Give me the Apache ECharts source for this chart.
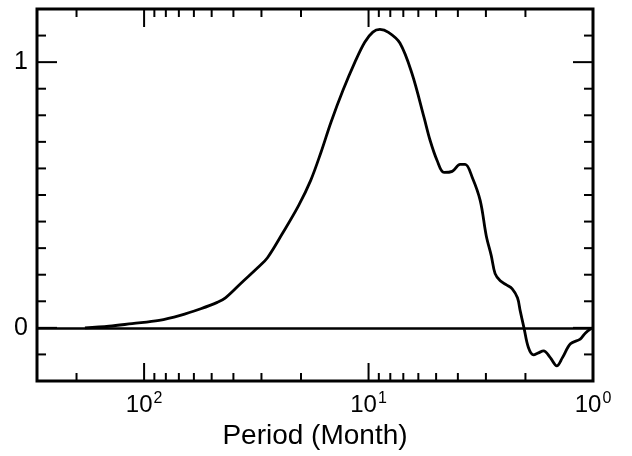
<!DOCTYPE html>
<html><head><meta charset="utf-8">
<script src="https://cdn.jsdelivr.net/npm/echarts@6/dist/echarts.min.js"></script>
<style>html,body{margin:0;padding:0;background:#fff}#c{width:632px;height:456px}</style>
</head><body><div id="c"></div>
<script>
// Period (months) and spectral value of the curve
const periods = [183.5, 143.4, 113.1, 85.7, 69.0, 55.9, 47.2, 43.4, 36.8, 31.2, 28.2, 24.2, 20.5, 18.1, 16.3, 14.7, 13.0, 11.5, 10.4, 9.57, 8.90, 8.15, 7.25, 6.41, 5.66, 5.32, 4.95, 4.61, 4.24, 3.91, 3.71, 3.45, 3.18, 2.99, 2.84, 2.73, 2.59, 2.43, 2.29, 2.17, 2.11, 2.03, 1.94, 1.84, 1.75, 1.66, 1.55, 1.45, 1.37, 1.26, 1.14, 1.08, 1.01];
const values = [0.0, 0.006, 0.016, 0.028, 0.047, 0.072, 0.096, 0.113, 0.170, 0.226, 0.264, 0.355, 0.460, 0.555, 0.660, 0.774, 0.894, 1.000, 1.075, 1.113, 1.123, 1.112, 1.072, 0.958, 0.792, 0.706, 0.630, 0.585, 0.589, 0.615, 0.615, 0.566, 0.479, 0.347, 0.272, 0.204, 0.177, 0.162, 0.147, 0.113, 0.064, 0.0, -0.074, -0.102, -0.094, -0.087, -0.112, -0.143, -0.113, -0.060, -0.042, -0.019, 0.0];

const xMajorTicks = [100, 10];
const xMinorTicks = [200, 90, 80, 70, 60, 50, 40, 30, 20, 9, 8, 7, 6, 5, 4, 3, 2];
const xTickLabelValues = [100, 10, 1];
const xTickLabelExponents = ['2', '1', '0'];
const yMajorTicks = [0, 1];
const yMinorTicks = [-0.1, 0.1, 0.2, 0.3, 0.4, 0.5, 0.6, 0.7, 0.8, 0.9, 1.1];
const yTickLabels = ['0', '1'];
const xAxisTitle = 'Period (Month)';

const FONT = '"Liberation Sans", Arial, Helvetica, sans-serif';

function xTickRenderer(len) {
  return function (params, api) {
    const x = api.coord([api.value(0), 0])[0];
    const cs = params.coordSys;
    const b = cs.y + cs.height, t = cs.y;
    return { type: 'group', children: [
      { type: 'line', shape: { x1: x, y1: b, x2: x, y2: b - len }, style: { stroke: '#000', lineWidth: 2 } },
      { type: 'line', shape: { x1: x, y1: t, x2: x, y2: t + len }, style: { stroke: '#000', lineWidth: 2 } }
    ]};
  };
}
function yTickRenderer(len) {
  return function (params, api) {
    const y = api.coord([1, api.value(1)])[1];
    const cs = params.coordSys;
    const l = cs.x, r = cs.x + cs.width;
    return { type: 'group', children: [
      { type: 'line', shape: { x1: l, y1: y, x2: l + len, y2: y }, style: { stroke: '#000', lineWidth: 2 } },
      { type: 'line', shape: { x1: r, y1: y, x2: r - len, y2: y }, style: { stroke: '#000', lineWidth: 2 } }
    ]};
  };
}

const chart = echarts.init(document.getElementById('c'), null, { renderer: 'canvas' });
chart.setOption({
  animation: false,
  backgroundColor: '#fff',
  grid: { left: 37, right: 39, top: 9, bottom: 75, show: true, borderColor: '#000', borderWidth: 3, backgroundColor: 'transparent' },
  xAxis: {
    type: 'log', logBase: 10, min: 1, max: 300, inverse: true,
    axisLine: { show: false }, axisTick: { show: false }, splitLine: { show: false }, minorTick: { show: false },
    axisLabel: {
      margin: 10, showMinLabel: true, showMaxLabel: false, color: '#000',
      formatter: function (v) {
        for (let i = 0; i < xTickLabelValues.length; i++) {
          if (Math.abs(v - xTickLabelValues[i]) < 1e-6 * xTickLabelValues[i]) return '{b|10}{s|' + xTickLabelExponents[i] + '}';
        }
        return '';
      },
      rich: {
        b: { fontSize: 24, fontFamily: FONT, color: '#000' },
        s: { fontSize: 16, fontFamily: FONT, color: '#000', verticalAlign: 'top', padding: [0, 0, 12, 1] }
      }
    },
    name: xAxisTitle, nameLocation: 'middle', nameGap: 40,
    nameTextStyle: { fontSize: 28, fontFamily: FONT, color: '#000' }
  },
  yAxis: {
    type: 'value', min: -0.2, max: 1.2, interval: 0.1,
    axisLine: { show: false }, axisTick: { show: false }, splitLine: { show: false },
    axisLabel: {
      margin: 9, color: '#000', fontSize: 25, fontFamily: FONT,
      formatter: function (v) {
        for (let i = 0; i < yMajorTicks.length; i++) if (Math.abs(v - yMajorTicks[i]) < 1e-6) return yTickLabels[i];
        return '';
      }
    }
  },
  series: [
    {
      type: 'line', data: periods.map((p, i) => [p, values[i]]), smooth: 0.35, showSymbol: false,
      lineStyle: { color: '#000', width: 2.8 }, z: 3,
      markLine: { silent: true, symbol: 'none', label: { show: false }, lineStyle: { color: '#000', width: 2.5, type: 'solid' }, data: [{ yAxis: 0 }] }
    },
    { type: 'custom', clip: false, renderItem: xTickRenderer(18), data: xMajorTicks.map(p => [p, 0]), z: 4 },
    { type: 'custom', clip: false, renderItem: xTickRenderer(8), data: xMinorTicks.map(p => [p, 0]), z: 4 },
    { type: 'custom', clip: false, renderItem: yTickRenderer(20), data: yMajorTicks.map(v => [1, v]), z: 4 },
    { type: 'custom', clip: false, renderItem: yTickRenderer(9), data: yMinorTicks.map(v => [1, v]), z: 4 }
  ]
});
</script>
</body></html>
